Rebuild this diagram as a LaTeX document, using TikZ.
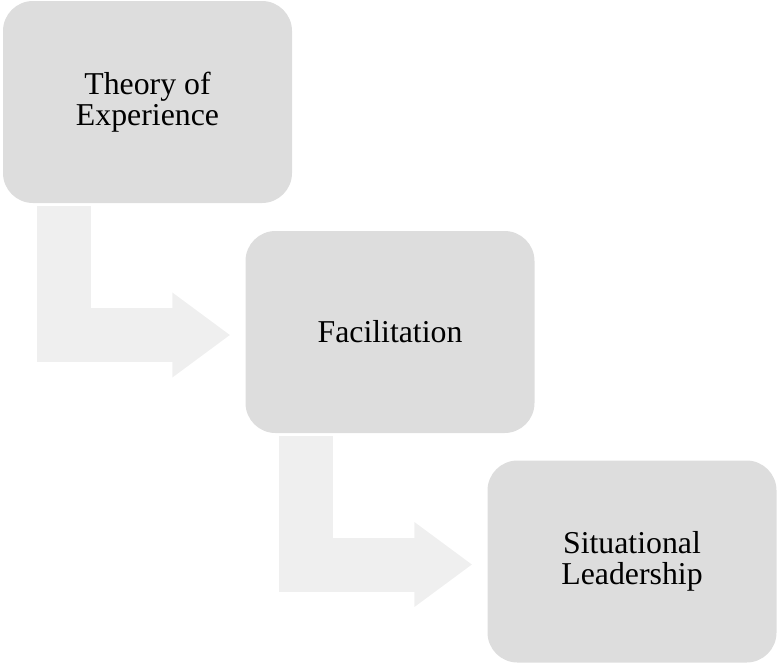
\documentclass[tikz,border=0pt]{standalone}
\usepackage{fontspec}
\setmainfont{Liberation Serif}
\usetikzlibrary{arrows.meta}
\usepackage{xcolor}
\definecolor{boxgray}{HTML}{DDDDDD}
\definecolor{arrowgray}{HTML}{EFEFEF}

\begin{document}
\begin{tikzpicture}[x=1pt, y=-1pt,
        stage/.style={fill=boxgray, rounded corners=30pt, inner sep=0pt, minimum width=289pt, minimum height=202pt, align=center, font=\fontsize{31.8}{31.5}\selectfont},
        bentarrow/.style={draw=arrowgray, line width=54pt, line join=miter, -{Triangle[length=58pt, width=81pt]}, arrowgray}]
            \useasboundingbox (0,0) rectangle (778,662);
            \node[stage] (theory) at (147.5,102) {Theory of\\Experience};
            \node[stage] (facil) at (390,332) {Facilitation};
            \node[stage] (situational) at (632,561.5) {Situational\\Leadership};
            
            \draw[bentarrow] ([xshift=61pt, yshift=-3pt]theory.south west) |- ([xshift=-15pt, yshift=-3pt]facil.west);
            \draw[bentarrow] ([xshift=61pt, yshift=-3pt]facil.south west) |- ([xshift=-15pt, yshift=-3pt]situational.west);
        \end{tikzpicture}
\end{document}
